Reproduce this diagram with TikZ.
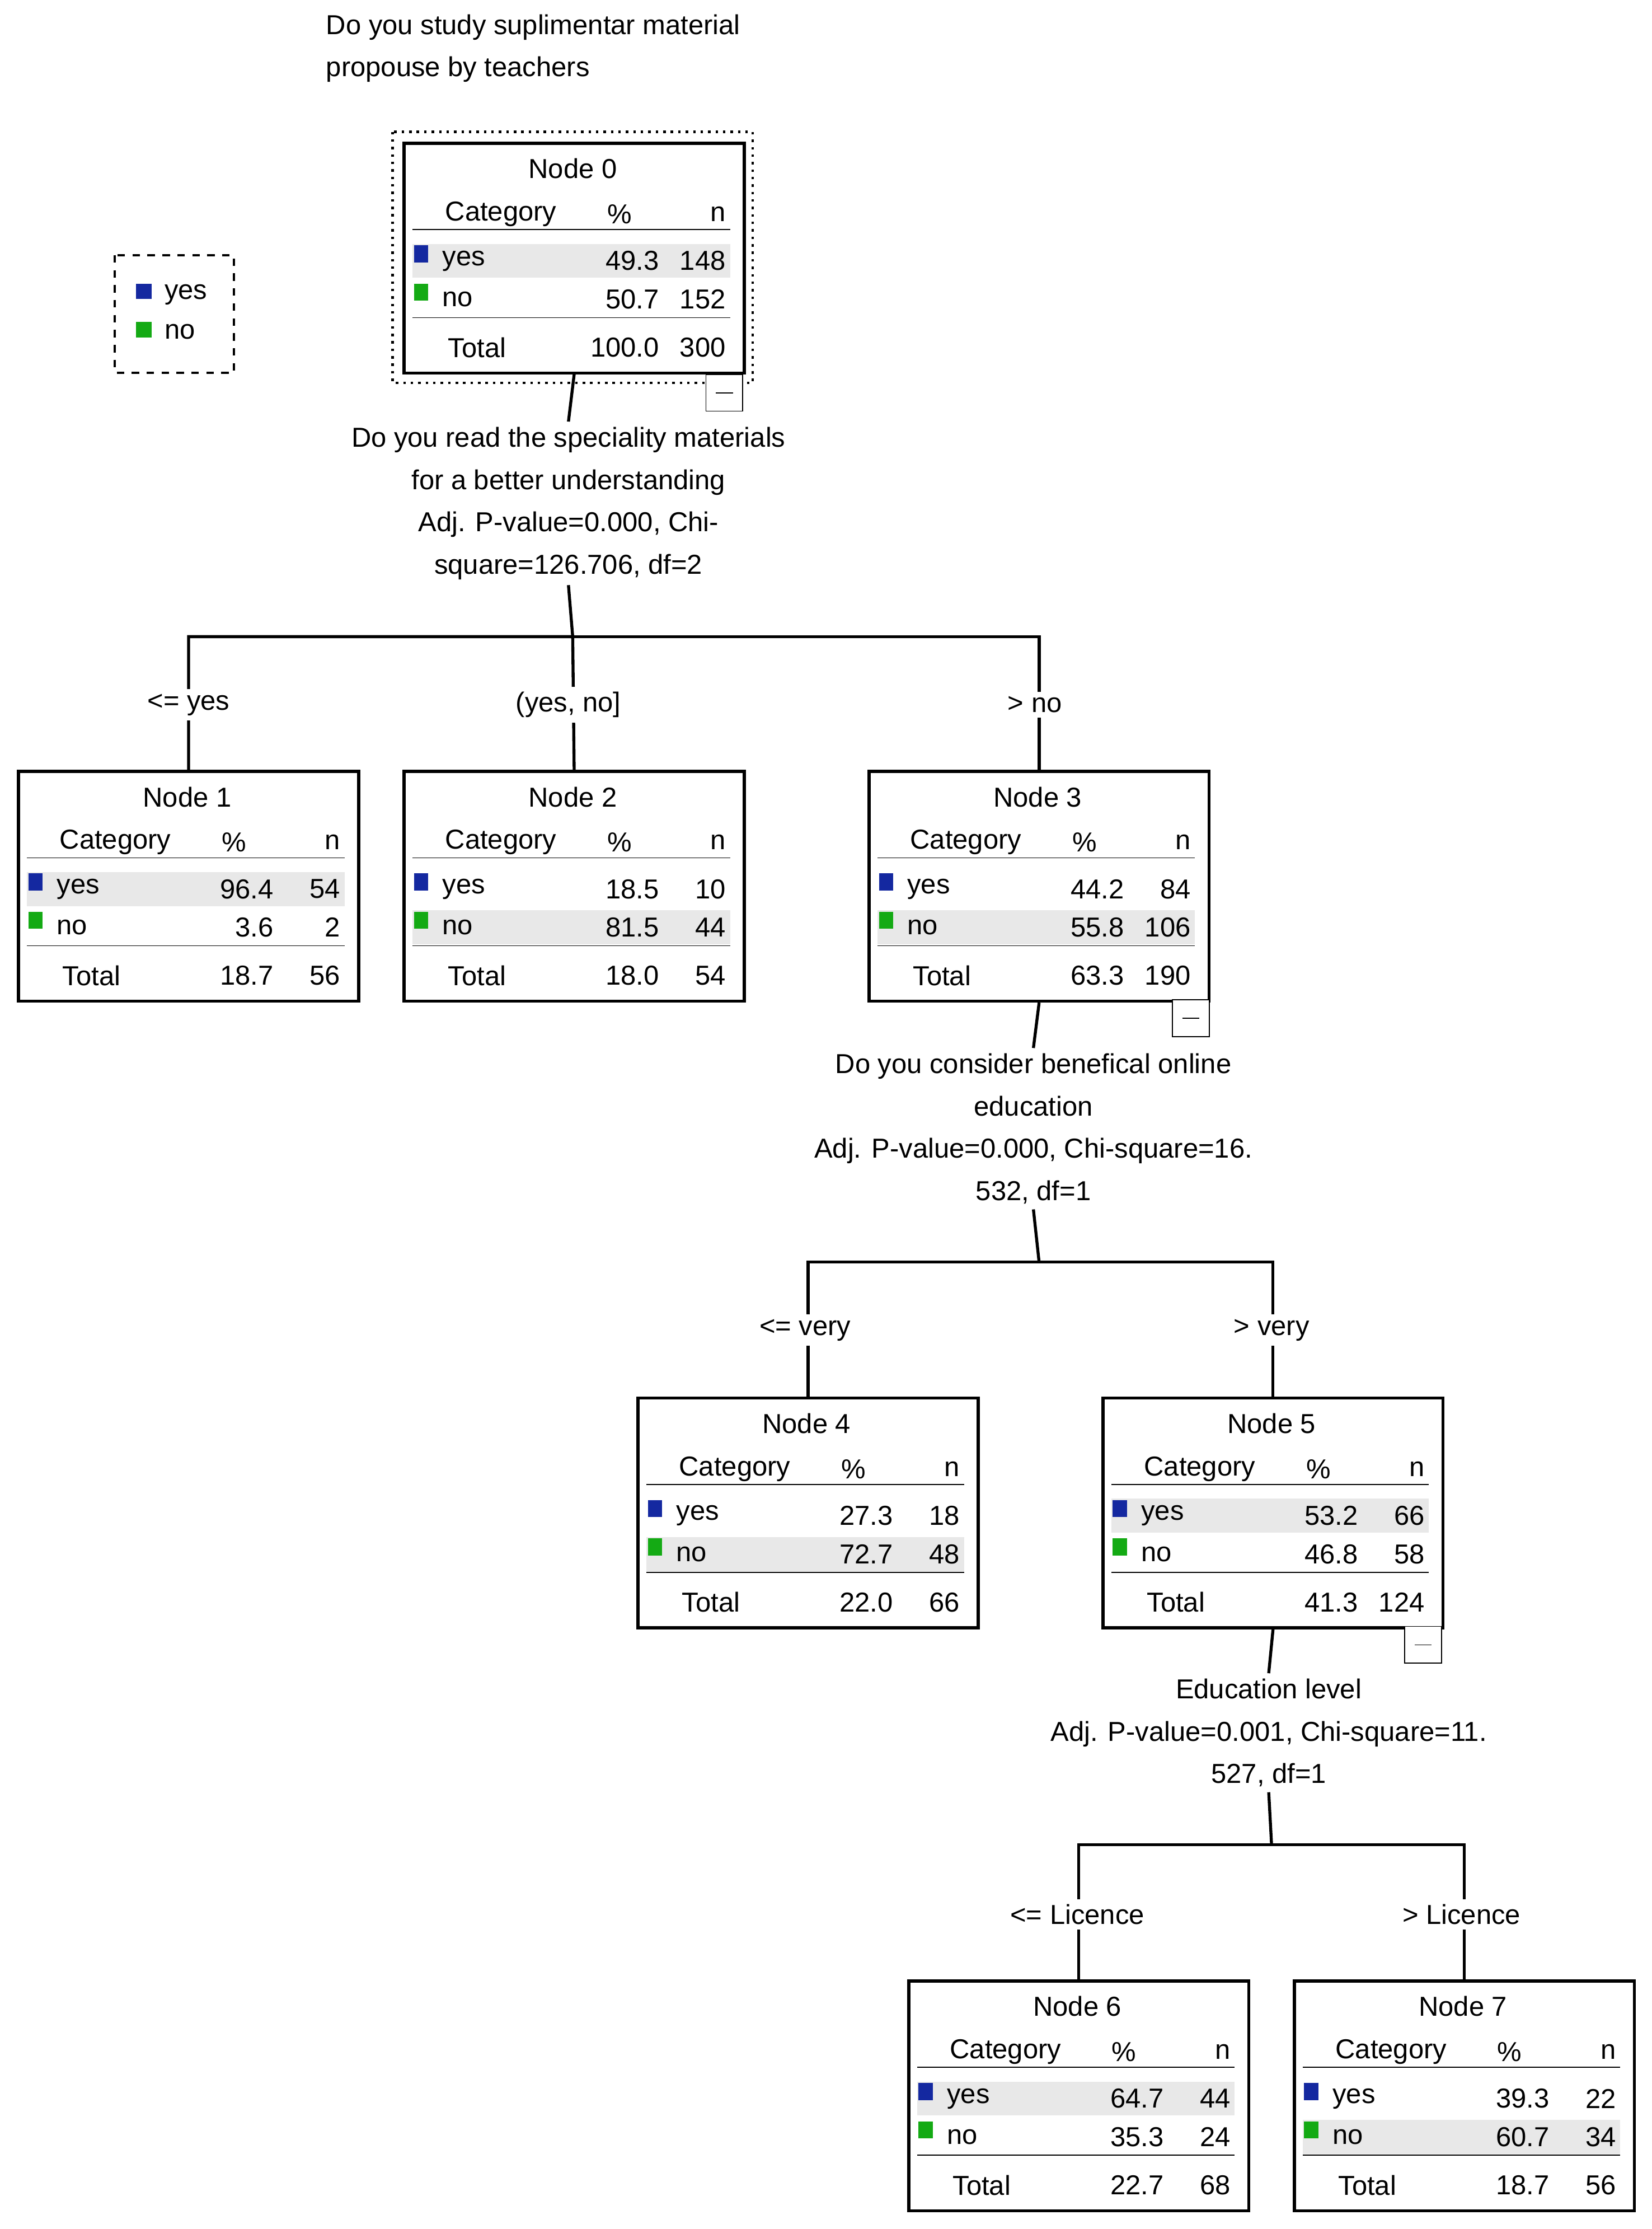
\documentclass[tikz,border=0pt]{standalone}
\usepackage{fontspec}
\setmainfont{Liberation Sans}
\begin{document}
\newcommand\nodebody[9]{%
  \node[box,anchor=north west] (#1) at (0,0) {};
  \fill[shade] (7,{72+27*(#9-1)}) rectangle (231,{96+27*(#9-1)});
  \node at (120,19) {#8};
  \node[anchor=west] at (28,51) {Category};
  \node at (153,51) {\%};
  \node[anchor=east] at (230,51) {n};
  \draw (7,62) -- (231,62);
  \draw (7,124) -- (231,124);
  \fill[yesc] (8,73) rectangle (18,85);
  \fill[noc] (8,100) rectangle (18,112);
  \node[anchor=west] at (26,84) {yes};
  \node[anchor=east] at (183,84) {#2};
  \node[anchor=east] at (230,84) {#3};
  \node[anchor=west] at (26,111) {no};
  \node[anchor=east] at (183,111) {#4};
  \node[anchor=east] at (230,111) {#5};
  \node[anchor=west] at (30,145) {Total};
  \node[anchor=east] at (183,145) {#6};
  \node[anchor=east] at (230,145) {#7};
}
\newcommand\collapsebox[1]{%
  \draw[fill=white] (#1) rectangle ++(26,26);
  \draw ($(#1)+(7,13)$) -- ++(12,0);
}
\begin{tikzpicture}[x=0.02cm,y=-0.02cm,
  every node/.style={font=\fontsize{11}{17}\selectfont, inner sep=1pt},
  box/.style={draw, line width=1.2pt, minimum width=4.8cm, minimum height=3.24cm, inner sep=0pt},
  shade/.style={fill=black!9},
  lbl/.style={fill=white, align=center, inner sep=2pt},
  conn/.style={line width=1.2pt}]
\definecolor{yesc}{RGB}{20,40,160}
\definecolor{noc}{RGB}{20,170,20}
\useasboundingbox[fill=white] (0,0) rectangle (1165,1572);
\usetikzlibrary{calc}

% title
\node[anchor=north west, align=left] (title) at (228,8) {Do you study suplimentar material\\propouse by teachers};

% legend
\draw[dashed, line width=1pt] (81,180) rectangle (165,263);
\fill[yesc] (96,200) rectangle (107,211);
\fill[noc] (96,227) rectangle (107,238);
\node[anchor=west] (ly) at (114,208) {yes};
\node[anchor=west] (ln) at (114,234) {no};

% nodes
\draw[dotted, line width=1pt] (277,93) rectangle (531,270);
\begin{scope}[shift={(284,100)}]\nodebody{n0}{49.3}{148}{50.7}{152}{100.0}{300}{Node 0}{1}\end{scope}
\begin{scope}[shift={(12,543)}]\nodebody{n1}{96.4}{54}{3.6}{2}{18.7}{56}{Node 1}{1}\end{scope}
\begin{scope}[shift={(284,543)}]\nodebody{n2}{18.5}{10}{81.5}{44}{18.0}{54}{Node 2}{2}\end{scope}
\begin{scope}[shift={(612,543)}]\nodebody{n3}{44.2}{84}{55.8}{106}{63.3}{190}{Node 3}{2}\end{scope}
\begin{scope}[shift={(449,985)}]\nodebody{n4}{27.3}{18}{72.7}{48}{22.0}{66}{Node 4}{2}\end{scope}
\begin{scope}[shift={(777,985)}]\nodebody{n5}{53.2}{66}{46.8}{58}{41.3}{124}{Node 5}{1}\end{scope}
\begin{scope}[shift={(640,1396)}]\nodebody{n6}{64.7}{44}{35.3}{24}{22.7}{68}{Node 6}{1}\end{scope}
\begin{scope}[shift={(912,1396)}]\nodebody{n7}{39.3}{22}{60.7}{34}{18.7}{56}{Node 7}{2}\end{scope}

% split 0
\node[align=center, inner sep=2pt] (q0) at (401,355) {Do you read the speciality materials\\for a better understanding\\Adj. P-value=0.000, Chi-\\square=126.706, df=2};
\coordinate (b0) at (404,449);
\draw[conn] (n0.south) -- (q0.north);
\draw[conn] (q0.south) -- (b0);
\draw[conn] (n1.north) |- (b0) -- (n2.north);
\draw[conn] (n3.north) |- (b0);
\node[lbl] (e1) at (133,497) {<= yes};
\node[lbl] (e2) at (401,497) {(yes, no]};
\node[lbl] (e3) at (730,497) {> no};
\collapsebox{498,264}

% split 3
\node[align=center, inner sep=2pt] (q3) at (729,796) {Do you consider benefical online\\education\\Adj. P-value=0.000, Chi-square=16.\\532, df=1};
\coordinate (b3) at (733,890);
\draw[conn] (n3.south) -- (q3.north);
\draw[conn] (q3.south) -- (b3);
\draw[conn] (n4.north) |- (b3);
\draw[conn] (n5.north) |- (b3);
\node[lbl] (e4) at (568,938) {<= very};
\node[lbl] (e5) at (897,938) {> very};
\collapsebox{827,705}

% split 5
\node[align=center, inner sep=2pt] (q5) at (895,1222) {Education level\\Adj. P-value=0.001, Chi-square=11.\\527, df=1};
\coordinate (b5) at (897,1301);
\draw[conn] (n5.south) -- (q5.north);
\draw[conn] (q5.south) -- (b5);
\draw[conn] (n6.north) |- (b5);
\draw[conn] (n7.north) |- (b5);
\node[lbl] (e6) at (760,1350) {<= Licence};
\node[lbl] (e7) at (1031,1350) {> Licence};
\collapsebox{991,1147}
\end{tikzpicture}
\end{document}
